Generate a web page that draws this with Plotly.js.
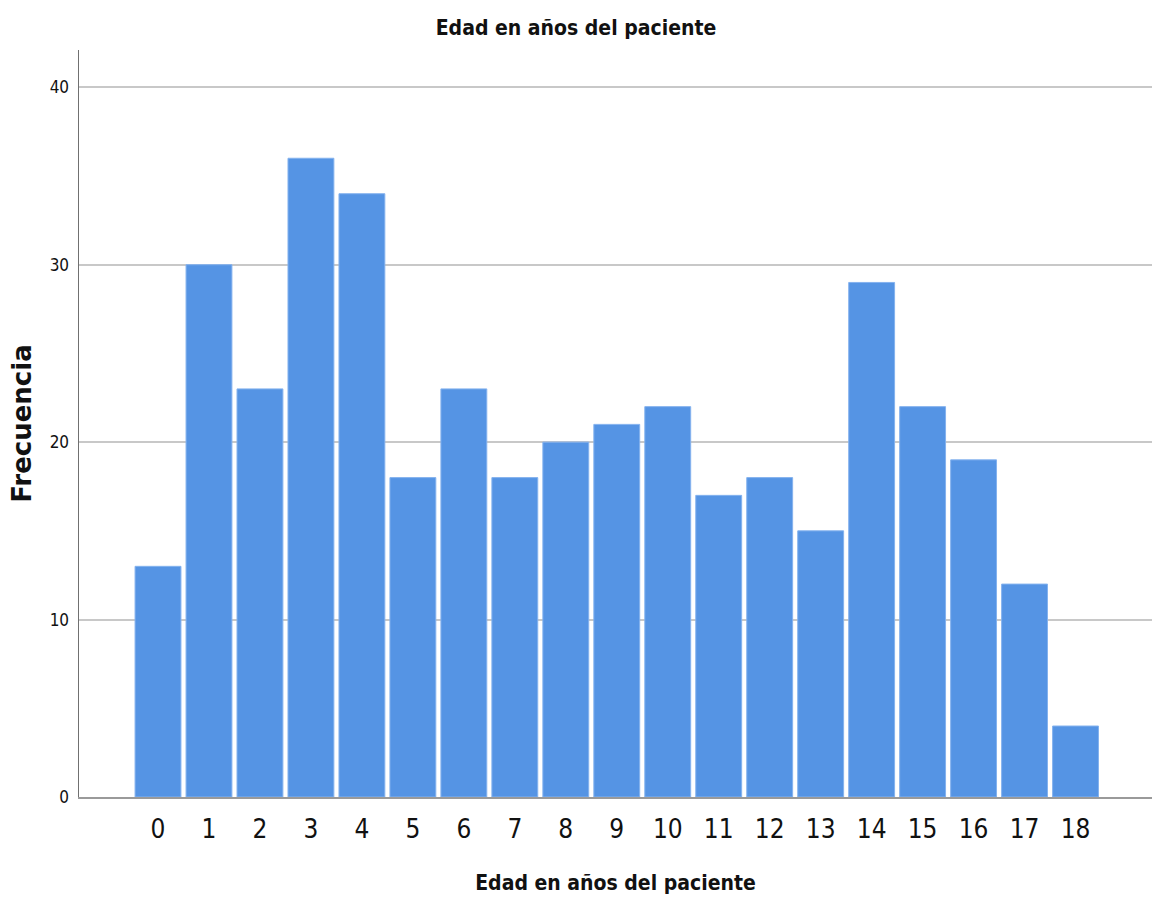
<!DOCTYPE html>
<html>
<head>
<meta charset="utf-8">
<script src="https://cdn.plot.ly/plotly-3.0.1.min.js"></script>
<style>
  html, body { margin: 0; padding: 0; background: #fff; }
  #chart { width: 1152px; height: 901px; }
</style>
</head>
<body>
<div id="chart"></div>
<script>
const ages = ["0","1","2","3","4","5","6","7","8","9","10","11","12","13","14","15","16","17","18"];
const frequencies = [13, 30, 23, 36, 34, 18, 23, 18, 20, 21, 22, 17, 18, 15, 29, 22, 19, 12, 4];
const yTicks = [0, 10, 20, 30, 40];
const titleText = "Edad en años del paciente";
const xTitleText = "Edad en años del paciente";
const yTitleText = "Frecuencia";

const narrow = "Liberation Sans Narrow, DejaVu Sans Condensed, Arial Narrow, sans-serif";

const trace = {
  type: "bar",
  x: ages,
  y: frequencies,
  marker: { color: "#5594e4", line: { color: "#84b2ee", width: 1 } },
  hoverinfo: "x+y"
};

const layout = {
  width: 1152,
  height: 901,
  paper_bgcolor: "#ffffff",
  plot_bgcolor: "#ffffff",
  margin: { l: 79, r: 0, t: 50, b: 104 },
  bargap: 0.1,
  showlegend: false,
  title: {
    text: titleText,
    x: 0.5,
    xref: "container",
    xanchor: "center",
    y: 0.969,
    yref: "container",
    yanchor: "middle",
    font: { family: narrow, size: 21, color: "#111", weight: "bold" }
  },
  xaxis: {
    type: "category",
    range: [-1.55, 19.5],
    showline: true,
    linecolor: "#9a9a9a",
    linewidth: 2,
    showgrid: false,
    zeroline: false,
    ticks: "",
    ticklabelstandoff: 8,
    automargin: true,
    tickfont: { family: narrow, size: 26, color: "#111" },
    title: {
      text: xTitleText,
      standoff: 32,
      font: { family: narrow, size: 21, color: "#111", weight: "bold" }
    }
  },
  yaxis: {
    range: [0, 42.1],
    tickvals: yTicks,
    ticktext: yTicks.map(String),
    showline: true,
    linecolor: "#707070",
    linewidth: 1.5,
    showgrid: true,
    gridcolor: "#c8c8c8",
    gridwidth: 2,
    zeroline: false,
    ticks: "",
    ticklabelstandoff: 5,
    automargin: true,
    tickfont: { family: narrow, size: 17, color: "#111" },
    title: {
      text: yTitleText,
      standoff: 10,
      font: { family: "DejaVu Sans, sans-serif", size: 26, color: "#111", weight: "bold" }
    }
  }
};

Plotly.newPlot("chart", [trace], layout, { displayModeBar: false, staticPlot: true });
</script>
</body>
</html>
